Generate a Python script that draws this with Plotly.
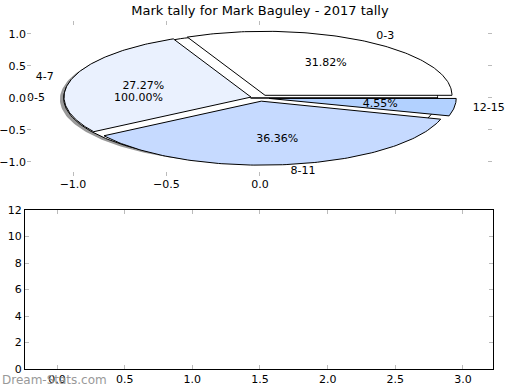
import numpy as np
import plotly.graph_objects as go

# ---- data ----
labels = ["0-3", "4-7", "8-11", "12-15"]
values = [7, 6, 8, 1]
colors = ["#ffffff", "#eaf1fe", "#c6daff", "#b2d1ff"]
explode = [0.05, 0.05, 0.05, 0.05]
full_label = ["0-5"]
full_values = [1]
title = "Mark tally for Mark Baguley - 2017 tally"
bottom_yticks = [0, 2, 4, 6, 8, 10, 12]
bottom_xticks = [0.0, 0.5, 1.0, 1.5, 2.0, 2.5, 3.0]
top_xticks = [-1.0, -0.5, 0.0]
top_yticks = [-1.0, -0.5, 0.0, 0.5, 1.0]

FONT = "DejaVu Sans"
fig = go.Figure()


def wedge(cx, cy, t1, t2, n=120):
    th = np.radians(np.linspace(t1, t2, n))
    xs = np.concatenate([[cx], cx + np.cos(th), [cx]])
    ys = np.concatenate([[cy], cy + np.sin(th), [cy]])
    return xs, ys


# full-circle pie (0-5) with shadow, exploded toward 180 deg
fx, fy = -0.05, 0.0
sx, sy = wedge(fx - 0.02, fy - 0.02, 0, 360, 300)
fig.add_trace(go.Scatter(x=sx, y=sy, mode="lines", fill="toself",
                         fillcolor="rgba(70,70,70,0.55)", line=dict(width=0),
                         hoverinfo="skip", showlegend=False, xaxis="x", yaxis="y"))
cx_, cy_ = wedge(fx, fy, 0, 360, 300)
fig.add_trace(go.Scatter(x=cx_, y=cy_, mode="lines", fill="toself",
                         fillcolor="#ffffff", line=dict(width=1, color="black"),
                         hoverinfo="skip", showlegend=False, xaxis="x", yaxis="y"))

total = sum(values)
start = 0.0
txt_x, txt_y, txt, txt_pos = [], [], [], []
pct_x, pct_y, pct_t = [], [], []
for lab, v, c, e in zip(labels, values, colors, explode):
    span = 360.0 * v / total
    t1, t2 = start, start + span
    m = np.radians((t1 + t2) / 2)
    cx, cy = e * np.cos(m), e * np.sin(m)
    xs, ys = wedge(cx, cy, t1, t2)
    fig.add_trace(go.Scatter(x=xs, y=ys, mode="lines", fill="toself", fillcolor=c,
                             line=dict(width=1, color="black"), hoverinfo="skip",
                             showlegend=False, xaxis="x", yaxis="y"))
    lx, ly = cx + 1.1 * np.cos(m), cy + 1.1 * np.sin(m)
    txt_x.append(lx); txt_y.append(ly); txt.append(lab)
    txt_pos.append("middle right" if lx > 0 else "middle left")
    pct_x.append(cx + 0.6 * np.cos(m)); pct_y.append(cy + 0.6 * np.sin(m))
    pct_t.append("%.2f%%" % (100.0 * v / total))
    start = t2

# labels for the full pie
m = np.radians(180)
txt_x.append(fx + 1.1 * np.cos(m)); txt_y.append(fy + 1.1 * np.sin(m)); txt.append(full_label[0])
txt_pos.append("middle left")
pct_x.append(fx + 0.6 * np.cos(m)); pct_y.append(fy + 0.6 * np.sin(m))
pct_t.append("%.2f%%" % (100.0 * full_values[0] / sum(full_values)))

fig.add_trace(go.Scatter(x=txt_x, y=txt_y, mode="text", text=txt, textposition=txt_pos,
                         cliponaxis=False,
                         textfont=dict(family=FONT, size=11, color="black"),
                         hoverinfo="skip", showlegend=False, xaxis="x", yaxis="y"))
fig.add_trace(go.Scatter(x=pct_x, y=pct_y, mode="text", text=pct_t, textposition="middle center",
                         cliponaxis=False,
                         textfont=dict(family=FONT, size=11, color="black"),
                         hoverinfo="skip", showlegend=False, xaxis="x", yaxis="y"))

# empty bottom axes
fig.add_trace(go.Scatter(x=[None], y=[None], mode="markers", showlegend=False,
                         xaxis="x2", yaxis="y2"))

W, H = 520, 390
tickfont = dict(family=FONT, size=11, color="black")
fig.update_layout(
    width=W, height=H, margin=dict(l=0, r=0, t=0, b=0, autoexpand=False), autosize=False,
    paper_bgcolor="white", plot_bgcolor="white",
    title=dict(text=title, x=0.5, xanchor="center", y=1 - 10 / H, yanchor="middle",
               automargin=False,
               font=dict(family=FONT, size=13, color="black")),
    xaxis=dict(domain=[27 / W, 492 / W], range=[-1.246, 1.241], tickvals=top_xticks,
               ticktext=["\u22121.0", "\u22120.5", "0.0"], automargin=False,
               ticks="inside", ticklen=4, tickcolor="#bbbbbb", mirror="ticks",
               showline=False, showgrid=False, zeroline=False, tickfont=tickfont,
               anchor="y"),
    yaxis=dict(domain=[(H - 176) / H, (H - 21) / H], range=[-1.219, 1.203],
               tickvals=top_yticks, automargin=False,
               ticktext=["\u22121.0", "\u22120.5", "0.0", "0.5", "1.0"],
               ticks="inside", ticklen=4, tickcolor="#bbbbbb", mirror="ticks",
               showline=False, showgrid=False, zeroline=False, tickfont=tickfont,
               anchor="x"),
    xaxis2=dict(domain=[25 / W, 493 / W], range=[-0.2365, 3.222], tickvals=bottom_xticks,
                tickformat=".1f", automargin=False,
                ticks="inside", ticklen=4, tickcolor="#bbbbbb", mirror="allticks",
                showline=True, linecolor="black", linewidth=1,
                showgrid=False, zeroline=False, tickfont=tickfont, anchor="y2"),
    yaxis2=dict(domain=[(H - 369) / H, (H - 210) / H], range=[0, 12], tickvals=bottom_yticks,
                automargin=False,
                ticks="inside", ticklen=4, tickcolor="#bbbbbb", mirror="allticks",
                showline=True, linecolor="black", linewidth=1,
                showgrid=False, zeroline=False, tickfont=tickfont, anchor="x2"),
    annotations=[dict(text="Dream-Stats.com", x=0, y=1 - 380 / H, xref="paper", yref="paper",
                      xanchor="left", yanchor="middle", showarrow=False,
                      font=dict(family=FONT, size=12, color="#999999"))],
)
fig.write_html("out.html",
               config={"displayModeBar": False, "responsive": False},
               post_script="document.body.style.margin='0';document.body.style.overflow='hidden';")
